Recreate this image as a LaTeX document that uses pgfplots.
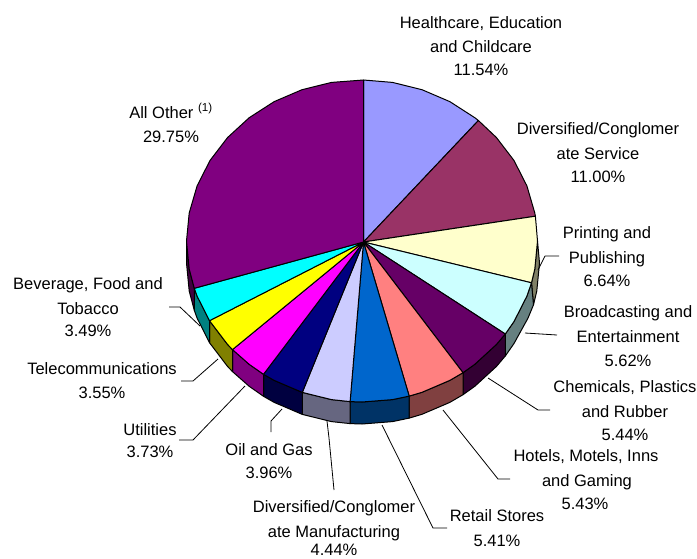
\documentclass[border=0pt]{standalone}
\usepackage{fontspec}
\setmainfont{Liberation Sans}
\usepackage{pgfplots}
\pgfplotsset{compat=1.18}

\definecolor{cHealth}{HTML}{9999FF}
\definecolor{cServ}{HTML}{993366}
\definecolor{cPrint}{HTML}{FFFFCC}
\definecolor{cBroad}{HTML}{CCFFFF}
\definecolor{cChem}{HTML}{660066}
\definecolor{cHotel}{HTML}{FF8080}
\definecolor{cRetail}{HTML}{0066CC}
\definecolor{cManuf}{HTML}{CCCCFF}
\definecolor{cOil}{HTML}{000080}
\definecolor{cUtil}{HTML}{FF00FF}
\definecolor{cTele}{HTML}{FFFF00}
\definecolor{cBev}{HTML}{00FFFF}
\definecolor{cOther}{HTML}{800080}

\newcommand{\lbl}[3]{\node[anchor=base,inner sep=0pt] at (axis cs:#1,#2) {#3};}

\begin{document}
\begin{tikzpicture}
\useasboundingbox (0,0) rectangle (697pt,558pt);
\begin{axis}[
    scale only axis,
    width=697pt,
    height=558pt,
    xmin=0, xmax=697,
    ymin=0, ymax=558,
    y dir=reverse,
    hide axis,
    clip=false,
    font=\fontsize{16.5}{18}\selectfont,
    every axis plot/.append style={draw=black,line width=1pt,line join=round},
    ]
    %% side of the pie, front half
    \addplot[fill=cPrint!50!black] coordinates {(537.5,241) (534.8,269) (531.5,282.8) (533.5,304.8) (536.8,291) (539.5,263)} --cycle;
    \addplot[fill=cBroad!50!black] coordinates {(531.5,282.8) (526.9,296.1) (514,321.5) (505.3,334) (505.3,356) (514,343.5) (528,318.1) (533.5,304.8)} --cycle;
    \addplot[fill=cChem!50!black] coordinates {(505.3,334) (496.4,344.5) (474.8,364.3) (463,372.7) (463,394.7) (474.8,386.3) (496.4,366.5) (505.3,356)} --cycle;
    \addplot[fill=cHotel!50!black] coordinates {(463,372.7) (449.8,380.4) (422,392.3) (409.2,396.1) (409.2,418.1) (422,414.3) (449.8,402.4) (463,394.7)} --cycle;
    \addplot[fill=cRetail!50!black] coordinates {(409.2,396.1) (392.5,399.6) (362,402) (350.1,401.6) (350.1,423.6) (362,424) (392.5,421.6) (409.2,418.1)} --cycle;
    \addplot[fill=cManuf!50!black] coordinates {(350.1,401.6) (331.5,399.6) (302.3,392.4) (302.3,414.4) (331.5,421.6) (350.1,423.6)} --cycle;
    \addplot[fill=cOil!50!black] coordinates {(302.3,392.4) (274.2,380.4) (263.5,374.3) (263.5,396.3) (274.2,402.4) (302.3,414.4)} --cycle;
    \addplot[fill=cUtil!50!black] coordinates {(263.5,374.3) (249.2,364.3) (232.5,349.6) (232.5,371.6) (249.2,386.3) (263.5,396.3)} --cycle;
    \addplot[fill=cTele!50!black] coordinates {(232.5,349.6) (227.6,344.5) (209.5,320.7) (209.5,342.7) (227.6,366.5) (232.5,371.6)} --cycle;
    \addplot[fill=cBev!50!black] coordinates {(209.5,320.7) (197.1,296.1) (194.3,288.3) (194.3,310.3) (197.1,318.1) (209.5,342.7)} --cycle;
    \addplot[fill=cOther!50!black] coordinates {(194.3,288.3) (189.2,269) (186.5,241) (186.5,263) (189.2,291) (194.3,310.3)} --cycle;

    %% top face, clockwise from 12 o'clock
    % Healthcare, Education and Childcare 11.54
    \addplot[fill=cHealth] coordinates {(363.5,242) (363.5,80) (392.5,82.4) (422,89.7) (449.8,101.6) (474.8,117.7) (478.4,120.5)} --cycle;
    % Diversified/Conglomerate Service 11.00
    \addplot[fill=cServ] coordinates {(363.5,242) (478.4,120.5) (496.4,137.5) (514,160.5) (526.9,185.9) (534.8,213) (535.4,216.2)} --cycle;
    % Printing and Publishing 6.64
    \addplot[fill=cPrint] coordinates {(363.5,242) (535.4,216.2) (537.5,241) (534.8,269) (531.5,282.8)} --cycle;
    % Broadcasting and Entertainment 5.62
    \addplot[fill=cBroad] coordinates {(363.5,242) (531.5,282.8) (526.9,296.1) (514,321.5) (505.3,334)} --cycle;
    % Chemicals, Plastics and Rubber 5.44
    \addplot[fill=cChem] coordinates {(363.5,242) (505.3,334) (496.4,344.5) (474.8,364.3) (463,372.7)} --cycle;
    % Hotels, Motels, Inns and Gaming 5.43
    \addplot[fill=cHotel] coordinates {(363.5,242) (463,372.7) (449.8,380.4) (422,392.3) (409.2,396.1)} --cycle;
    % Retail Stores 5.41
    \addplot[fill=cRetail] coordinates {(363.5,242) (409.2,396.1) (392.5,399.6) (362,402) (350.1,401.6)} --cycle;
    % Diversified/Conglomerate Manufacturing 4.44
    \addplot[fill=cManuf] coordinates {(363.5,242) (350.1,401.6) (331.5,399.6) (302.3,392.4)} --cycle;
    % Oil and Gas 3.96
    \addplot[fill=cOil] coordinates {(363.5,242) (302.3,392.4) (274.2,380.4) (263.5,374.3)} --cycle;
    % Utilities 3.73
    \addplot[fill=cUtil] coordinates {(363.5,242) (263.5,374.3) (249.2,364.3) (232.5,349.6)} --cycle;
    % Telecommunications 3.55
    \addplot[fill=cTele] coordinates {(363.5,242) (232.5,349.6) (227.6,344.5) (209.5,320.7)} --cycle;
    % Beverage, Food and Tobacco 3.49
    \addplot[fill=cBev] coordinates {(363.5,242) (209.5,320.7) (197.1,296.1) (194.3,288.3)} --cycle;
    % All Other 29.75
    \addplot[fill=cOther] coordinates {(363.5,242) (194.3,288.3) (189.2,269) (186.5,241) (189.2,213) (197.1,185.9) (210,160.5) (227.6,137.5) (249.2,117.7) (274.2,101.6) (302,89.7) (331.5,82.4) (363.5,80)} --cycle;

    %% leader lines
    \addplot[line width=0.8pt] coordinates {(538,270) (545,256) (559,256)};
    \addplot[line width=0.8pt] coordinates {(525,333) (557,335)};
    \addplot[line width=0.8pt] coordinates {(488,378) (538,410) (550,410)};
    \addplot[line width=0.8pt] coordinates {(443,410) (498,479) (510,479)};
    \addplot[line width=0.8pt] coordinates {(382,425) (433,528) (447,528)};
    \addplot[line width=0.8pt] coordinates {(327,421) (329,438) (334,490)};
    \addplot[line width=0.8pt] coordinates {(282,409) (271,421) (271,432)};
    \addplot[line width=0.8pt] coordinates {(245,386) (193,440) (179,440)};
    \addplot[line width=0.8pt] coordinates {(218,359) (193,381) (181,381)};
    \addplot[line width=0.8pt] coordinates {(200,326) (180,307) (169,307)};

    %% labels, x is the centre and y the baseline of each line
    \lbl{481}{28}{Healthcare, Education}
    \lbl{481}{52}{and Childcare}
    \lbl{481}{75}{11.54\%}
    \lbl{598}{134}{Diversified/Conglomer}
    \lbl{598}{159}{ate Service}
    \lbl{598}{182}{11.00\%}
    \lbl{607}{238}{Printing and}
    \lbl{607}{263}{Publishing}
    \lbl{607}{286}{6.64\%}
    \lbl{628}{317}{Broadcasting and}
    \lbl{628}{342}{Entertainment}
    \lbl{628}{366}{5.62\%}
    \lbl{625}{392}{Chemicals, Plastics}
    \lbl{625}{417}{and Rubber}
    \lbl{625}{440}{5.44\%}
    \lbl{586}{461}{Hotels, Motels, Inns}
    \lbl{587}{486}{and Gaming}
    \lbl{585}{509}{5.43\%}
    \lbl{497}{521}{Retail Stores}
    \lbl{497}{546}{5.41\%}
    \lbl{334}{512}{Diversified/Conglomer}
    \lbl{334}{537}{ate Manufacturing}
    \lbl{334}{555}{4.44\%}
    \lbl{269}{455}{Oil and Gas}
    \lbl{269}{478}{3.96\%}
    \lbl{150}{435}{Utilities}
    \lbl{150}{457}{3.73\%}
    \lbl{102}{374}{Telecommunications}
    \lbl{102}{398}{3.55\%}
    \lbl{88}{289}{Beverage, Food and}
    \lbl{88}{314}{Tobacco}
    \lbl{88}{336}{3.49\%}
    \lbl{171}{118}{All Other \textsuperscript{(1)}}
    \lbl{171}{142}{29.75\%}
\end{axis}
\end{tikzpicture}
\end{document}
